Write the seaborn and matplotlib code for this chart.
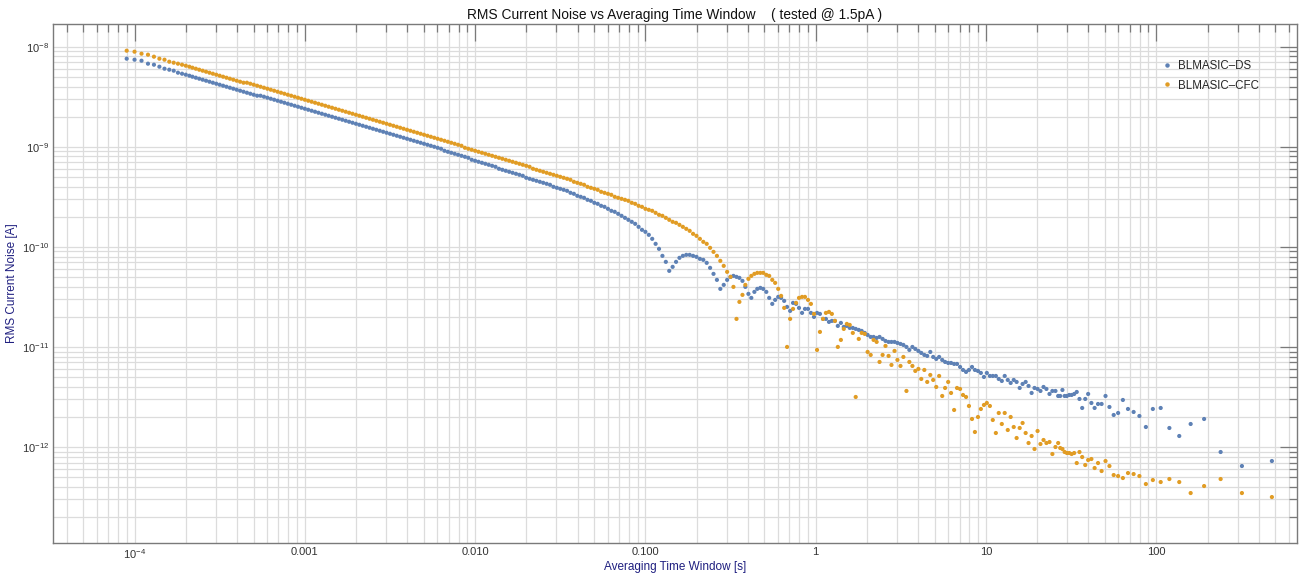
import numpy as np
import pandas as pd
import matplotlib
matplotlib.use("Agg")
import matplotlib.pyplot as plt
import seaborn as sns
from matplotlib.ticker import LogLocator, NullFormatter
from matplotlib.lines import Line2D

# ---------------- data (log10 values) ----------------
# averaging time window, log10(seconds)
log_tau_early = [-4.046, -4.000, -3.959, -3.921, -3.886, -3.854, -3.824, -3.796, -3.770, -3.745,
                 -3.721, -3.699, -3.678]
log_tau_smooth = [
    -3.66, -3.64, -3.62, -3.60, -3.58, -3.56, -3.54, -3.52, -3.50, -3.48,
    -3.46, -3.44, -3.42, -3.40, -3.38, -3.36, -3.34, -3.32, -3.30, -3.28,
    -3.26, -3.24, -3.22, -3.20, -3.18, -3.16, -3.14, -3.12, -3.10, -3.08,
    -3.06, -3.04, -3.02, -3.00, -2.98, -2.96, -2.94, -2.92, -2.90, -2.88,
    -2.86, -2.84, -2.82, -2.80, -2.78, -2.76, -2.74, -2.72, -2.70, -2.68,
    -2.66, -2.64, -2.62, -2.60, -2.58, -2.56, -2.54, -2.52, -2.50, -2.48,
    -2.46, -2.44, -2.42, -2.40, -2.38, -2.36, -2.34, -2.32, -2.30, -2.28,
    -2.26, -2.24, -2.22, -2.20, -2.18, -2.16, -2.14, -2.12, -2.10, -2.08,
    -2.06, -2.04, -2.02, -2.00, -1.98, -1.96, -1.94, -1.92, -1.90, -1.88,
    -1.86, -1.84, -1.82, -1.80, -1.78, -1.76, -1.74, -1.72, -1.70, -1.68,
    -1.66, -1.64, -1.62, -1.60, -1.58, -1.56, -1.54, -1.52, -1.50, -1.48,
    -1.46, -1.44, -1.42, -1.40, -1.38, -1.36, -1.34, -1.32, -1.30, -1.28,
    -1.26, -1.24, -1.22, -1.20, -1.18, -1.16, -1.14, -1.12, -1.10, -1.08,
    -1.06, -1.04, -1.02, -1.00, -0.98, -0.96, -0.94, -0.92, -0.90, -0.88,
    -0.86, -0.84, -0.82, -0.80, -0.78, -0.76, -0.74, -0.72, -0.70, -0.68,
    -0.66, -0.64, -0.62, -0.60, -0.58, -0.56, -0.54, -0.52]
log_tau_ripple = [
    -0.500, -0.483, -0.465, -0.448, -0.430, -0.413, -0.395, -0.378, -0.360, -0.343,
    -0.325, -0.308, -0.290, -0.273, -0.255, -0.238, -0.220, -0.203, -0.185, -0.168,
    -0.150, -0.133, -0.115, -0.098, -0.080, -0.063, -0.045, -0.028, -0.010, 0.008,
    0.025, 0.043, 0.060, 0.078, 0.095, 0.113, 0.130, 0.148, 0.165, 0.183,
    0.200, 0.218, 0.235, 0.253, 0.270, 0.288, 0.305, 0.323, 0.340, 0.358,
    0.375, 0.393, 0.410, 0.428, 0.445, 0.463, 0.480, 0.498, 0.515, 0.533,
    0.550, 0.568, 0.585, 0.603, 0.620, 0.638, 0.655, 0.673, 0.690, 0.708,
    0.725, 0.743, 0.760, 0.778, 0.795, 0.813, 0.830, 0.848, 0.865, 0.883,
    0.900, 0.918, 0.935, 0.953, 0.970, 0.988, 1.005, 1.023, 1.040, 1.058,
    1.075, 1.093, 1.110, 1.128, 1.145, 1.163, 1.180, 1.198, 1.215, 1.233,
    1.250, 1.268, 1.285, 1.303, 1.320, 1.338, 1.355, 1.373, 1.390, 1.408]
log_tau_tail = [
    1.424, 1.436, 1.449, 1.462, 1.475, 1.489, 1.503, 1.518, 1.533, 1.549,
    1.565, 1.583, 1.600, 1.619, 1.638, 1.658, 1.679, 1.702, 1.725, 1.750,
    1.776, 1.804, 1.834, 1.867, 1.901, 1.939, 1.980, 2.026, 2.077, 2.135,
    2.202, 2.281, 2.378, 2.503, 2.679]

# BLMASIC-DS, log10(RMS current noise [A])
log_ds_early = [-8.12, -8.13, -8.14, -8.17, -8.18, -8.20, -8.22, -8.23, -8.24, -8.26,
                -8.27, -8.28, -8.29]
log_ds_smooth = [
    -8.30, -8.31, -8.32, -8.33, -8.34, -8.35, -8.36, -8.37, -8.38, -8.39,
    -8.40, -8.41, -8.42, -8.43, -8.44, -8.45, -8.46, -8.47, -8.48, -8.49,
    -8.49, -8.50, -8.51, -8.52, -8.53, -8.54, -8.55, -8.56, -8.57, -8.58,
    -8.59, -8.60, -8.61, -8.62, -8.63, -8.64, -8.65, -8.66, -8.67, -8.68,
    -8.69, -8.70, -8.71, -8.72, -8.73, -8.74, -8.75, -8.76, -8.77, -8.78,
    -8.79, -8.80, -8.81, -8.82, -8.83, -8.84, -8.85, -8.86, -8.87, -8.88,
    -8.89, -8.90, -8.91, -8.92, -8.93, -8.94, -8.95, -8.96, -8.97, -8.98,
    -8.99, -9.00, -9.01, -9.02, -9.04, -9.05, -9.06, -9.07, -9.08, -9.09,
    -9.10, -9.11, -9.13, -9.14, -9.15, -9.16, -9.17, -9.18, -9.19, -9.20,
    -9.22, -9.23, -9.24, -9.25, -9.26, -9.27, -9.28, -9.29, -9.31, -9.32,
    -9.33, -9.34, -9.35, -9.36, -9.37, -9.38, -9.40, -9.41, -9.42, -9.43,
    -9.44, -9.46, -9.47, -9.49, -9.50, -9.51, -9.53, -9.54, -9.56, -9.57,
    -9.59, -9.60, -9.62, -9.64, -9.65, -9.67, -9.69, -9.71, -9.73, -9.75,
    -9.77, -9.80, -9.83, -9.85, -9.88, -9.92, -9.97, -10.02, -10.09, -10.15,
    -10.24, -10.20, -10.15, -10.11, -10.09, -10.08, -10.08, -10.09, -10.10, -10.12,
    -10.13, -10.16, -10.21, -10.27, -10.33, -10.42, -10.38, -10.33]
log_ds_ripple = [
    -10.30, -10.29, -10.30, -10.31, -10.34, -10.40, -10.47, -10.51, -10.45, -10.42,
    -10.41, -10.42, -10.45, -10.51, -10.57, -10.53, -10.50, -10.51, -10.54, -10.60,
    -10.64, -10.56, -10.57, -10.61, -10.66, -10.62, -10.62, -10.66, -10.70, -10.66,
    -10.67, -10.72, -10.72, -10.75, -10.74, -10.74, -10.79, -10.76, -10.80, -10.79,
    -10.81, -10.81, -10.82, -10.83, -10.84, -10.86, -10.88, -10.90, -10.90, -10.91,
    -10.90, -10.92, -10.94, -10.95, -10.95, -10.95, -10.96, -10.97, -10.98, -11.00,
    -11.03, -11.00, -11.02, -11.04, -11.06, -11.08, -11.09, -11.05, -11.10, -11.12,
    -11.10, -11.13, -11.15, -11.16, -11.16, -11.17, -11.17, -11.20, -11.23, -11.25,
    -11.23, -11.20, -11.23, -11.24, -11.26, -11.30, -11.26, -11.29, -11.29, -11.29,
    -11.32, -11.34, -11.29, -11.33, -11.36, -11.33, -11.35, -11.41, -11.37, -11.35,
    -11.39, -11.46, -11.41, -11.42, -11.44, -11.40, -11.42, -11.47, -11.44, -11.44]
log_ds_tail = [
    -11.49, -11.49, -11.43, -11.49, -11.49, -11.48, -11.48, -11.47, -11.45, -11.52,
    -11.61, -11.52, -11.47, -11.56, -11.61, -11.57, -11.57, -11.49, -11.60, -11.68,
    -11.66, -11.53, -11.62, -11.65, -11.69, -11.80, -11.62, -11.61, -11.81, -11.89,
    -11.77, -11.72, -12.05, -12.19, -12.14]

# BLMASIC-CFC, log10(RMS current noise [A])
log_cfc_early = [-8.04, -8.05, -8.07, -8.08, -8.10, -8.12, -8.13, -8.15, -8.16, -8.17,
                 -8.18, -8.19, -8.20]
log_cfc_smooth = [
    -8.21, -8.22, -8.23, -8.24, -8.25, -8.26, -8.27, -8.28, -8.29, -8.30,
    -8.31, -8.32, -8.33, -8.34, -8.35, -8.36, -8.36, -8.37, -8.38, -8.39,
    -8.40, -8.41, -8.42, -8.43, -8.44, -8.45, -8.46, -8.47, -8.48, -8.49,
    -8.50, -8.51, -8.52, -8.53, -8.54, -8.55, -8.56, -8.57, -8.58, -8.59,
    -8.60, -8.61, -8.62, -8.63, -8.64, -8.65, -8.66, -8.67, -8.68, -8.69,
    -8.70, -8.71, -8.72, -8.73, -8.74, -8.75, -8.76, -8.77, -8.78, -8.79,
    -8.80, -8.81, -8.82, -8.83, -8.84, -8.85, -8.86, -8.87, -8.88, -8.89,
    -8.90, -8.91, -8.92, -8.93, -8.94, -8.95, -8.96, -8.97, -8.98, -8.99,
    -9.01, -9.02, -9.03, -9.04, -9.05, -9.06, -9.07, -9.08, -9.09, -9.10,
    -9.11, -9.12, -9.13, -9.14, -9.15, -9.16, -9.17, -9.18, -9.19, -9.20,
    -9.22, -9.23, -9.24, -9.25, -9.26, -9.27, -9.28, -9.29, -9.30, -9.31,
    -9.32, -9.33, -9.35, -9.36, -9.37, -9.38, -9.40, -9.41, -9.42, -9.43,
    -9.45, -9.46, -9.47, -9.48, -9.50, -9.51, -9.52, -9.53, -9.54, -9.56,
    -9.57, -9.59, -9.60, -9.62, -9.63, -9.64, -9.66, -9.68, -9.69, -9.71,
    -9.73, -9.75, -9.76, -9.78, -9.80, -9.82, -9.84, -9.87, -9.89, -9.92,
    -9.95, -9.97, -10.01, -10.05, -10.09, -10.14, -10.19, -10.25]
log_cfc_ripple = [
    -10.30, -10.40, -10.72, -10.55, -10.48, -10.38, -10.32, -10.29, -10.27, -10.26,
    -10.26, -10.26, -10.28, -10.29, -10.33, -10.36, -10.42, -10.49, -10.61, -11.00,
    -10.72, -10.62, -10.56, -10.51, -10.50, -10.50, -10.53, -10.57, -10.67, -11.03,
    -10.85, -10.72, -10.66, -10.65, -10.67, -10.74, -11.00, -10.93, -10.82, -10.77,
    -10.78, -10.86, -11.50, -10.92, -10.86, -10.87, -11.05, -11.08, -10.93, -10.95,
    -11.15, -11.08, -10.99, -11.09, -11.18, -11.04, -11.13, -11.19, -11.10, -11.44,
    -11.15, -11.19, -11.24, -11.22, -11.32, -11.23, -11.35, -11.28, -11.33, -11.40,
    -11.29, -11.49, -11.41, -11.35, -11.46, -11.63, -11.41, -11.42, -11.48, -11.50,
    -11.59, -11.72, -11.85, -11.70, -11.62, -11.58, -11.56, -11.59, -11.73, -11.86,
    -11.66, -11.77, -11.66, -11.83, -11.70, -11.80, -11.91, -11.81, -11.76, -11.86,
    -11.96, -11.89, -12.02, -11.84, -11.97, -11.93, -11.96, -11.95, -12.07, -12.00]
log_cfc_tail = [
    -11.96, -12.01, -12.02, -12.05, -12.06, -12.06, -12.07, -12.06, -12.16, -12.05,
    -12.10, -12.18, -12.13, -12.12, -12.21, -12.16, -12.24, -12.14, -12.19, -12.28,
    -12.29, -12.31, -12.26, -12.27, -12.29, -12.37, -12.33, -12.35, -12.32, -12.35,
    -12.46, -12.39, -12.32, -12.46, -12.50]

series_names = ["BLMASIC\u2013DS", "BLMASIC\u2013CFC"]
x_tick_values = [1e-4, 1e-3, 1e-2, 1e-1, 1, 10, 100]
x_tick_labels = [r"$10^{-4}$", "0.001", "0.010", "0.100", "1", "10", "100"]
y_tick_values = [1e-12, 1e-11, 1e-10, 1e-9, 1e-8]
y_tick_labels = [r"$10^{-12}$", r"$10^{-11}$", r"$10^{-10}$", r"$10^{-9}$", r"$10^{-8}$"]

# ---------------- assemble ----------------
log_tau = np.array(log_tau_early + log_tau_smooth + log_tau_ripple + log_tau_tail)
log_ds = np.array(log_ds_early + log_ds_smooth + log_ds_ripple + log_ds_tail)
log_cfc = np.array(log_cfc_early + log_cfc_smooth + log_cfc_ripple + log_cfc_tail)
assert len(log_tau) == len(log_ds) == len(log_cfc), (len(log_tau), len(log_ds), len(log_cfc))

df = pd.DataFrame({
    "tau": np.concatenate([10 ** log_tau, 10 ** log_tau]),
    "noise": np.concatenate([10 ** log_ds, 10 ** log_cfc]),
    "series": [series_names[0]] * len(log_tau) + [series_names[1]] * len(log_tau),
})

BLUE = "#5E81B5"
ORANGE = "#E19C24"
NAVY = "#1f1f80"

sns.set_theme(style="white")
plt.rcParams["font.family"] = ["Liberation Sans", "DejaVu Sans"]
plt.rcParams["mathtext.fontset"] = "custom"
plt.rcParams["mathtext.rm"] = "Liberation Sans"
plt.rcParams["mathtext.it"] = "Liberation Sans"
plt.rcParams["axes.unicode_minus"] = True

fig = plt.figure(figsize=(13, 5.75), dpi=100)
ax = fig.add_axes([0.0410, 0.0562, 0.9565, 0.9016])

sns.scatterplot(data=df, x="tau", y="noise", hue="series",
                palette={series_names[0]: BLUE, series_names[1]: ORANGE},
                s=9, linewidth=0, alpha=1.0, ax=ax, legend=False, zorder=3)

ax.set_xscale("log")
ax.set_yscale("log")
ax.set_xlim(10 ** -4.477, 10 ** 2.825)
ax.set_ylim(10 ** -12.956, 10 ** -7.776)

ax.set_xticks(x_tick_values)
ax.set_xticklabels(x_tick_labels)
ax.set_yticks(y_tick_values)
ax.set_yticklabels(y_tick_labels)
ax.xaxis.set_minor_locator(LogLocator(base=10, subs=np.arange(2, 10), numticks=100))
ax.yaxis.set_minor_locator(LogLocator(base=10, subs=np.arange(2, 10), numticks=100))
ax.xaxis.set_minor_formatter(NullFormatter())
ax.yaxis.set_minor_formatter(NullFormatter())

ax.tick_params(which="both", direction="in", top=True, right=True,
               color="#7a7a7a", width=0.9, labelsize=8, labelcolor="#333333")
ax.tick_params(which="major", length=12, pad=3)
ax.tick_params(which="minor", length=6)

ax.grid(True, which="both", color="#dcdcdc", linewidth=0.9)
ax.set_axisbelow(True)
for sp in ax.spines.values():
    sp.set_color("#7a7a7a")
    sp.set_linewidth(1.0)

ax.set_xlabel("Averaging Time Window [s]", color=NAVY, fontsize=8.5)
ax.set_ylabel("RMS Current Noise [A]", color=NAVY, fontsize=8.5)
ax.xaxis.set_label_coords(0.5, -0.036)
ax.yaxis.set_label_coords(-0.028, 0.5)

fig.text(0.5192, 1 - 18.5 / 575, "RMS Current Noise vs Averaging Time Window    ( tested @ 1.5pA )",
         ha="center", va="baseline", fontsize=9.9, color="#111111")

handles = [Line2D([], [], marker="o", ls="", color=BLUE, markersize=2.2),
           Line2D([], [], marker="o", ls="", color=ORANGE, markersize=2.2)]
ax.legend(handles, series_names, loc="upper left", bbox_to_anchor=(0.893, 0.931),
          frameon=False, fontsize=8.3, handlelength=0.5, handletextpad=0.7,
          labelspacing=0.65, borderpad=0.0, borderaxespad=0.0)

fig.savefig("out.png", dpi=100)
